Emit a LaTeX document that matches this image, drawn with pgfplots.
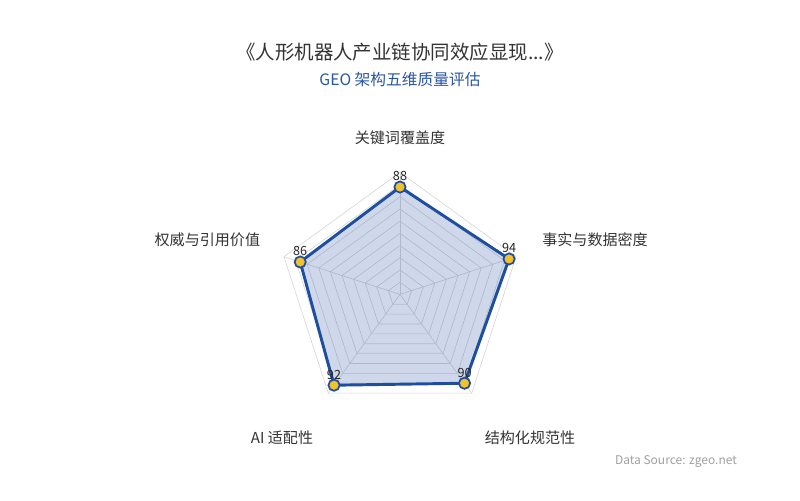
\documentclass[border=0pt]{standalone}
\usepackage{fontspec}
\setmainfont{Noto Sans CJK SC}
\usepackage{pgfplots}
\pgfplotsset{compat=1.18}

\definecolor{titlegray}{HTML}{333333}
\definecolor{subblue}{HTML}{2A56A0}
\definecolor{lineblue}{HTML}{1F4E9E}
\definecolor{markyellow}{HTML}{F2C12E}
\definecolor{gridgray}{HTML}{D8D8D8}
\definecolor{srcgray}{HTML}{A0A0A0}
\definecolor{labgray}{HTML}{333333}

\begin{document}
\begin{tikzpicture}
\begin{axis}[
    scale only axis,
    width=600pt, height=375pt,
    xmin=-327.87, xmax=327.87,
    ymin=-168.52, ymax=241.31,
    hide axis,
    clip=false,
]
% canvas
\path[draw=none] (rel axis cs:0,0) rectangle (rel axis cs:1,1);

% rings (levels 10..100) and spokes
\pgfplotsinvokeforeach{10,20,30,40,50,60,70,80,90,100}{
  \addplot[data cs=polar, gridgray, line width=0.5pt, no markers]
    coordinates {(90,#1)(18,#1)(-54,#1)(234,#1)(162,#1)(90,#1)};
}
\pgfplotsinvokeforeach{90,18,-54,234,162}{
  \addplot[data cs=polar, gridgray, line width=0.5pt, no markers]
    coordinates {(#1,0)(#1,100)};
}

% series
\addplot[data cs=polar, lineblue, line width=2.2pt, fill=lineblue, fill opacity=0.22,
    draw opacity=1, line join=round, no markers]
    coordinates {(90,88)(18,94)(-54,90)(234,92)(162,86)(90,88)};

\addplot[data cs=polar, only marks, mark=*, mark size=4.2pt,
    mark options={fill=markyellow, draw=lineblue, line width=1.3pt},
    point meta=explicit symbolic,
    nodes near coords,
    every node near coord/.append style={font=\fontsize{9.5pt}{11pt}\selectfont, text=black!85, anchor=south, yshift=0.5pt}]
    coordinates {(90,88) [88] (18,94) [94] (-54,90) [90] (234,92) [92] (162,86) [86]};

% axis names
\node[font=\fontsize{11.3pt}{13pt}\selectfont, text=labgray] at (rel axis cs:0.5,0.724) {关键词覆盖度};
\node[font=\fontsize{11.3pt}{13pt}\selectfont, text=labgray, anchor=west] at (rel axis cs:0.672,0.52) {事实与数据密度};
\node[font=\fontsize{11.3pt}{13pt}\selectfont, text=labgray] at (rel axis cs:0.6625,0.124) {结构化规范性};
\node[font=\fontsize{11.3pt}{13pt}\selectfont, text=labgray] at (rel axis cs:0.3525,0.124) {AI 适配性};
\node[font=\fontsize{11.3pt}{13pt}\selectfont, text=labgray, anchor=east] at (rel axis cs:0.331,0.52) {权威与引用价值};

% titles
\node[font=\fontsize{14.6pt}{17pt}\selectfont, text=titlegray] at (rel axis cs:0.5,0.896) {《人形机器人产业链协同效应显现...》};
\node[font=\fontsize{11.8pt}{14pt}\selectfont, text=subblue] at (rel axis cs:0.5,0.84) {GEO 架构五维质量评估};
\node[font=\fontsize{9pt}{11pt}\selectfont, text=srcgray, anchor=east] at (rel axis cs:0.927,0.076) {Data Source: zgeo.net};
\end{axis}
\end{tikzpicture}
\end{document}
